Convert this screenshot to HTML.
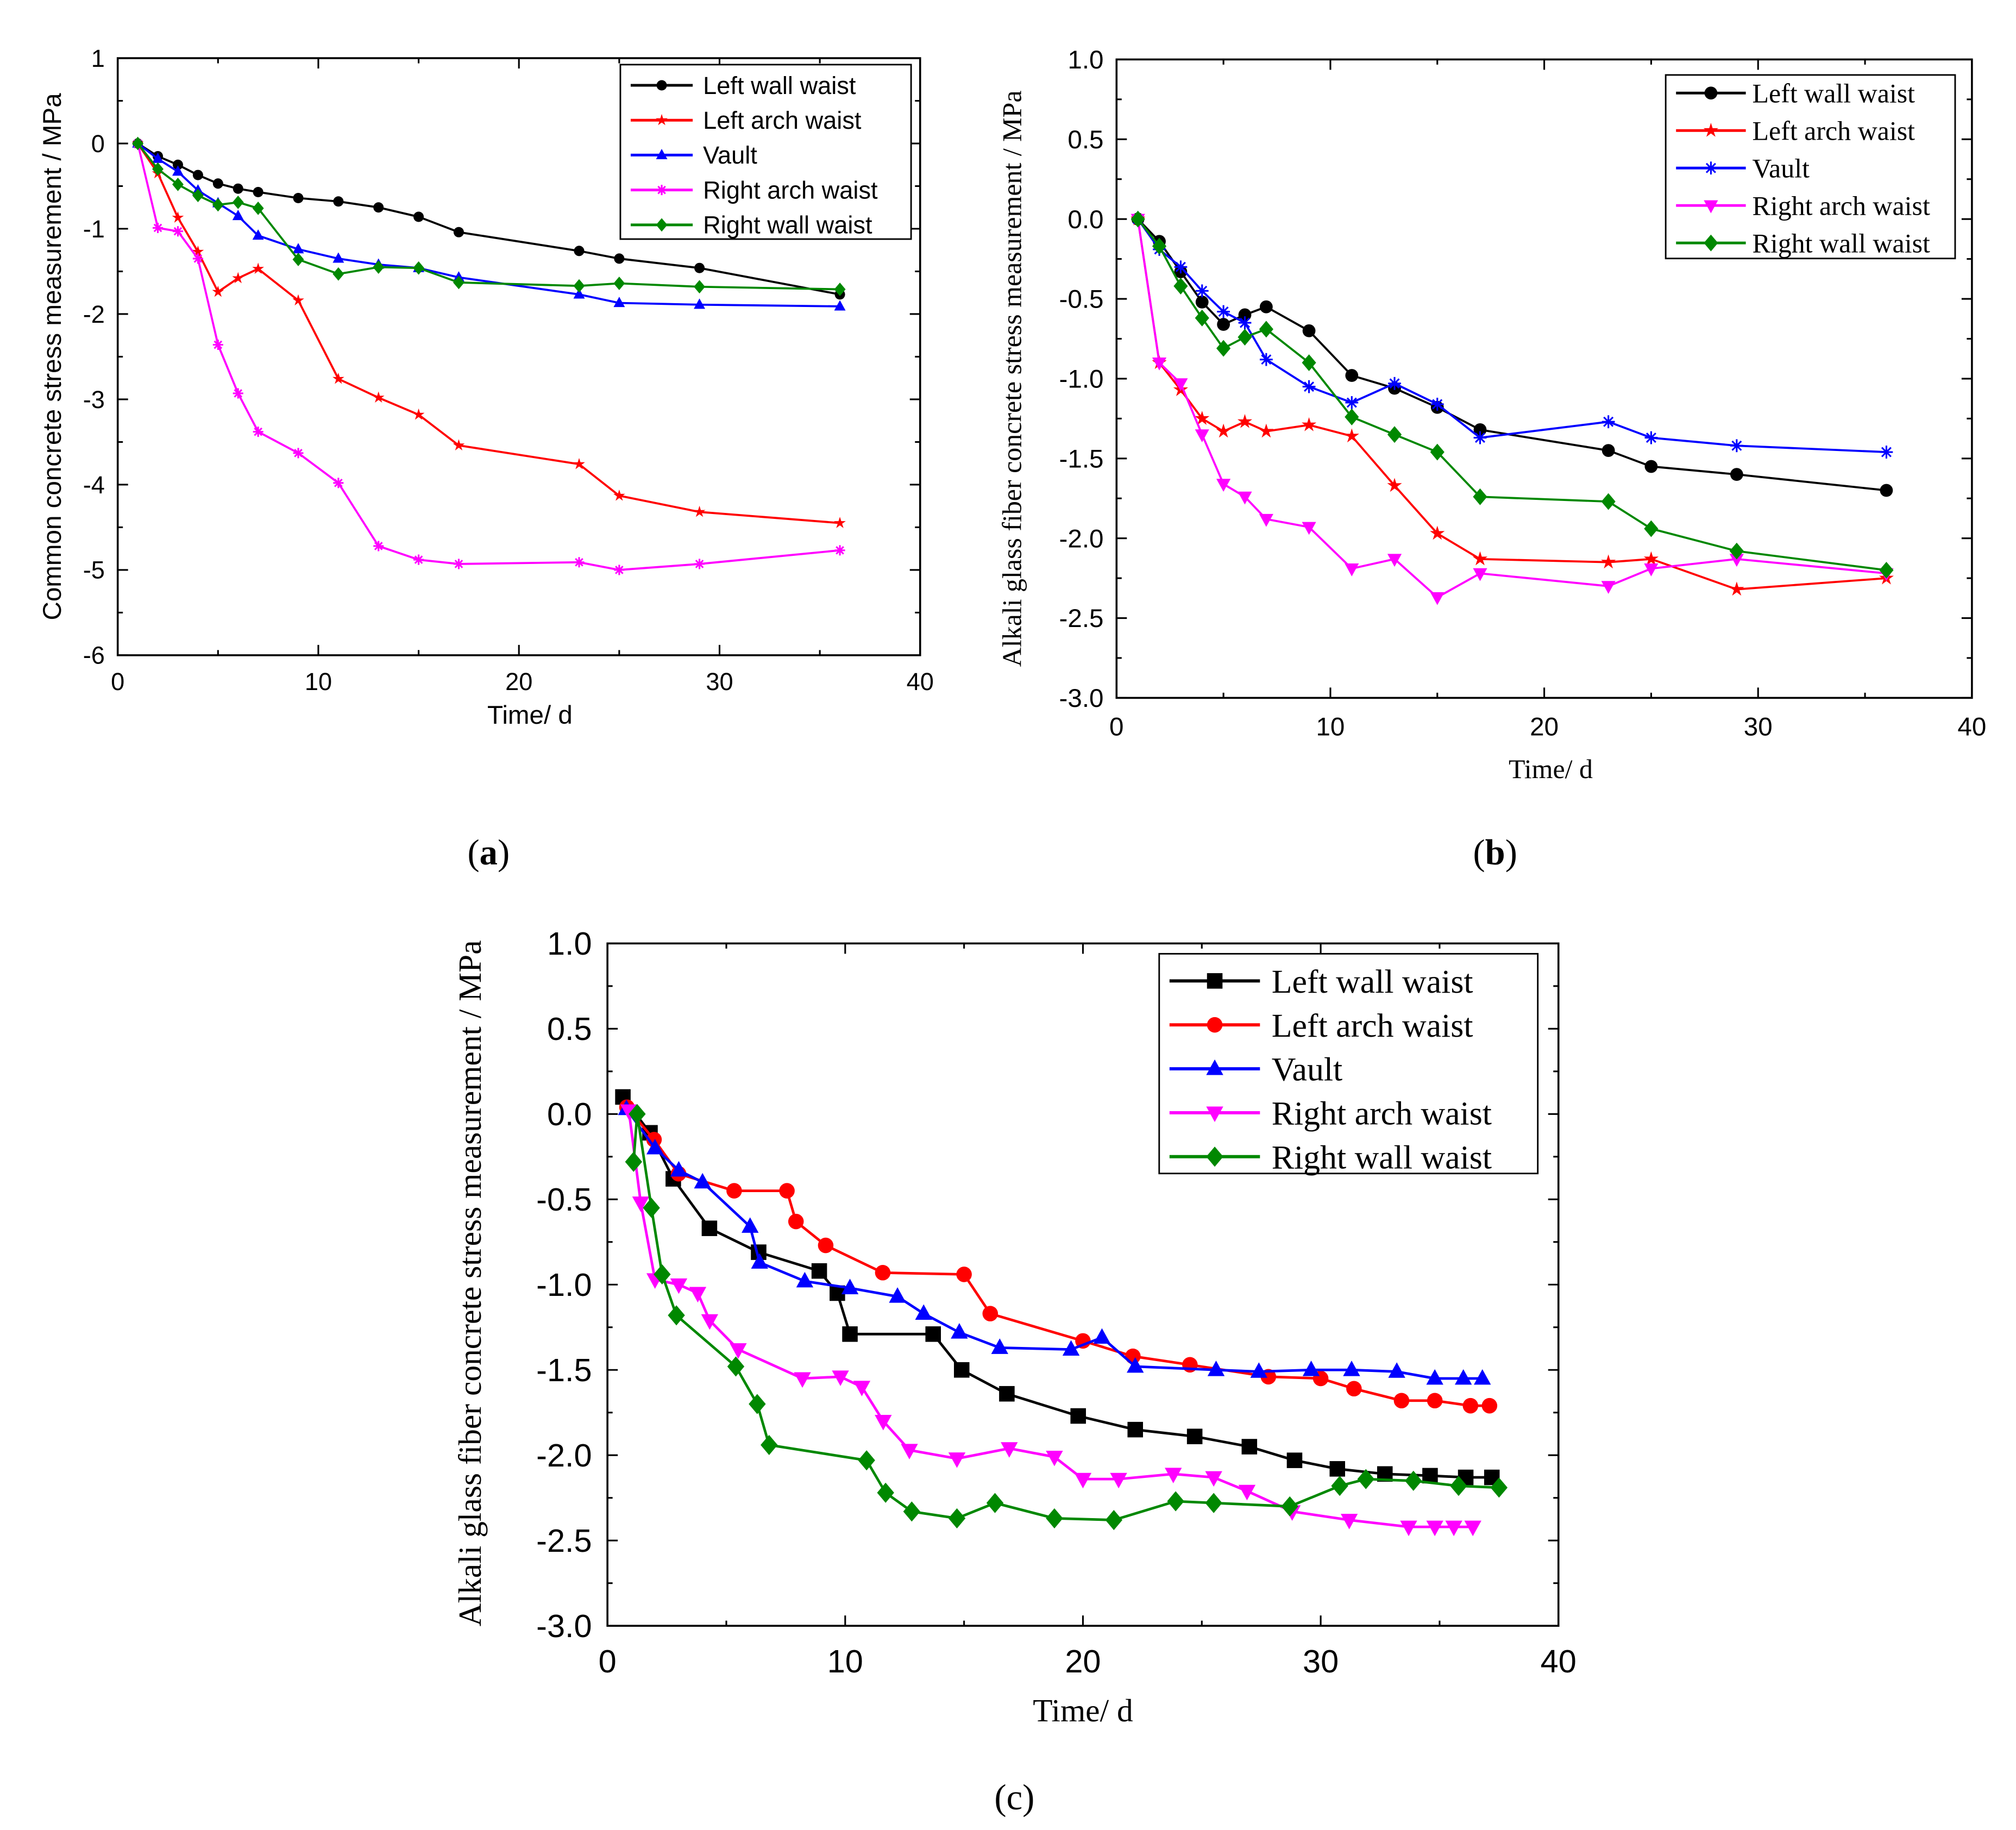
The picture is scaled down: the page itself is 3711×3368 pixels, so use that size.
<!DOCTYPE html>
<html><head><meta charset="utf-8"><style>
html,body{margin:0;padding:0;background:#fff;}
svg{display:block;}
</style></head><body>
<svg id="root" width="3711" height="3368" viewBox="0 0 1560 1416" xmlns="http://www.w3.org/2000/svg">
<rect width="1560" height="1416" fill="#fff"/>
<text x="378" y="669" font-family="Liberation Serif, serif" font-size="28" text-anchor="middle">(<tspan font-weight="bold">a</tspan>)</text>
<text x="1157" y="669" font-family="Liberation Serif, serif" font-size="28" text-anchor="middle">(<tspan font-weight="bold">b</tspan>)</text>
<text x="785" y="1400" font-family="Liberation Serif, serif" font-size="28" text-anchor="middle">(c)</text>
</svg>
<script>
// ---- Panel A data ----
const xA = [1,2,3,4,5,6,7,9,11,13,15,17,23,25,29,36];
const aLeftWall = [0,-0.15,-0.25,-0.37,-0.47,-0.53,-0.57,-0.64,-0.68,-0.75,-0.86,-1.04,-1.26,-1.35,-1.46,-1.77];
const aLeftArch = [0,-0.35,-0.87,-1.27,-1.74,-1.58,-1.47,-1.84,-2.76,-2.98,-3.18,-3.54,-3.76,-4.13,-4.32,-4.45];
const aVault = [0,-0.18,-0.33,-0.55,-0.7,-0.85,-1.08,-1.24,-1.35,-1.42,-1.46,-1.57,-1.77,-1.87,-1.89,-1.91];
const aRightArch = [0,-0.99,-1.03,-1.35,-2.36,-2.93,-3.38,-3.63,-3.98,-4.72,-4.88,-4.93,-4.91,-5.0,-4.93,-4.77];
const aRightWall = [0,-0.3,-0.48,-0.61,-0.72,-0.69,-0.76,-1.36,-1.53,-1.45,-1.46,-1.63,-1.67,-1.64,-1.68,-1.71];
const aYTicks = ["1","0","-1","-2","-3","-4","-5","-6"];
const aXTicks = ["0","10","20","30","40"];
// ---- Panel B data ----
const xB = [1,2,3,4,5,6,7,9,11,13,15,17,23,25,29,36];
const bLeftWall = [0,-0.14,-0.33,-0.52,-0.66,-0.6,-0.55,-0.7,-0.98,-1.06,-1.18,-1.32,-1.45,-1.55,-1.6,-1.7];
const bLeftArch = [0,-0.9,-1.07,-1.25,-1.33,-1.27,-1.33,-1.29,-1.36,-1.67,-1.97,-2.13,-2.15,-2.13,-2.32,-2.25];
const bVault = [0,-0.19,-0.3,-0.45,-0.58,-0.65,-0.88,-1.05,-1.15,-1.03,-1.16,-1.37,-1.27,-1.37,-1.42,-1.46];
const bRightArch = [0,-0.9,-1.03,-1.35,-1.66,-1.74,-1.88,-1.93,-2.19,-2.13,-2.37,-2.22,-2.3,-2.19,-2.13,-2.22];
const bRightWall = [0,-0.17,-0.42,-0.62,-0.81,-0.74,-0.69,-0.9,-1.24,-1.35,-1.46,-1.74,-1.77,-1.94,-2.08,-2.2];
const bYTicks = ["1.0","0.5","0.0","-0.5","-1.0","-1.5","-2.0","-2.5","-3.0"];
const bXTicks = ["0","10","20","30","40"];
// ---- Panel C data ----
const cLeftWallX = [0.65,1.79,2.77,4.29,6.36,8.91,9.67,10.2,13.7,14.9,16.8,19.8,22.2,24.7,27.0,28.9,30.7,32.7,34.6,36.1,37.2];
const cLeftWallY = [0.10,-0.11,-0.38,-0.67,-0.81,-0.92,-1.05,-1.29,-1.29,-1.5,-1.64,-1.77,-1.85,-1.89,-1.95,-2.03,-2.08,-2.11,-2.12,-2.13,-2.13];
const cLeftArchX = [0.82,1.96,2.99,5.33,7.55,7.93,9.18,11.58,15.0,16.1,20.0,22.1,24.5,27.8,30.0,31.4,33.4,34.8,36.3,37.1];
const cLeftArchY = [0.04,-0.15,-0.35,-0.45,-0.45,-0.63,-0.77,-0.93,-0.94,-1.17,-1.33,-1.42,-1.47,-1.54,-1.55,-1.61,-1.68,-1.68,-1.71,-1.71];
const cVaultX = [0.8,2.0,3.0,4.0,6.0,6.4,8.3,10.2,12.2,13.3,14.8,16.5,19.5,20.8,22.2,25.6,27.4,29.6,31.3,33.2,34.8,36.0,36.8];
const cVaultY = [0.03,-0.2,-0.33,-0.4,-0.66,-0.87,-0.98,-1.02,-1.07,-1.17,-1.28,-1.37,-1.38,-1.31,-1.48,-1.5,-1.51,-1.5,-1.5,-1.51,-1.55,-1.55,-1.55];
const cRightArchX = [0.9,1.4,2.0,3.0,3.8,4.3,5.5,8.2,9.8,10.7,11.6,12.7,14.7,16.9,18.8,20.0,21.5,23.8,25.5,26.9,28.8,31.2,33.7,34.8,35.6,36.4];
const cRightArchY = [0.02,-0.52,-0.97,-1.0,-1.05,-1.21,-1.38,-1.55,-1.54,-1.6,-1.8,-1.97,-2.02,-1.96,-2.01,-2.14,-2.14,-2.11,-2.13,-2.21,-2.33,-2.38,-2.42,-2.42,-2.42,-2.42];
const cRightWallX = [1.1,1.25,1.85,2.3,2.9,5.4,6.3,6.8,10.9,11.7,12.8,14.7,16.3,18.8,21.3,23.9,25.5,28.7,30.8,31.9,33.9,35.8,37.5];
const cRightWallY = [-0.28,0.0,-0.55,-0.94,-1.18,-1.48,-1.7,-1.94,-2.03,-2.22,-2.33,-2.37,-2.28,-2.37,-2.38,-2.27,-2.28,-2.3,-2.18,-2.14,-2.15,-2.18,-2.19];
const cYTicks = ["1.0","0.5","0.0","-0.5","-1.0","-1.5","-2.0","-2.5","-3.0"];
const cXTicks = ["0","10","20","30","40"];

const NS = "http://www.w3.org/2000/svg";
const root = document.getElementById('root');
function mk(tag, attrs, parent){
  const e = document.createElementNS(NS, tag);
  for (const k in attrs) e.setAttribute(k, attrs[k]);
  (parent||root).appendChild(e);
  return e;
}
function marker(g, type, cx, cy, color, s){
  let e;
  if (type==='circle'){ e = mk('circle',{cx:cx,cy:cy,r:s,fill:color},g); }
  else if (type==='square'){ e = mk('rect',{x:cx-s,y:cy-s,width:2*s,height:2*s,fill:color},g); }
  else if (type==='tri'){ e = mk('polygon',{points:`${cx},${cy-s*1.2} ${cx-s*1.1},${cy+s*0.8} ${cx+s*1.1},${cy+s*0.8}`,fill:color},g); }
  else if (type==='tridown'){ e = mk('polygon',{points:`${cx},${cy+s*1.2} ${cx-s*1.1},${cy-s*0.8} ${cx+s*1.1},${cy-s*0.8}`,fill:color},g); }
  else if (type==='diamond'){ e = mk('polygon',{points:`${cx},${cy-s*1.3} ${cx+s*1.1},${cy} ${cx},${cy+s*1.3} ${cx-s*1.1},${cy}`,fill:color},g); }
  else if (type==='star'){
    let p=[]; for(let i=0;i<10;i++){const r=i%2?s*0.45:s*1.2;const a=-Math.PI/2+i*Math.PI/5;p.push((cx+r*Math.cos(a)).toFixed(2)+','+(cy+r*Math.sin(a)).toFixed(2));}
    e = mk('polygon',{points:p.join(' '),fill:color},g);
  }
  else if (type==='asterisk'){
    e = mk('g',{stroke:color,'stroke-width':1.3},g);
    for(let i=0;i<4;i++){const a=i*Math.PI/4;mk('line',{x1:cx-s*Math.cos(a),y1:cy-s*Math.sin(a),x2:cx+s*Math.cos(a),y2:cy+s*Math.sin(a)},e);}
  }
  
  
}
function chart(cfg){
  const g = mk('g',{});
  
  
  const X = v => cfg.x0 + (v - cfg.xmin)/(cfg.xmax-cfg.xmin)*(cfg.x1-cfg.x0);
  const Y = v => cfg.y1 - (v - cfg.ymin)/(cfg.ymax-cfg.ymin)*(cfg.y1-cfg.y0);
  // ticks
  const tg = mk('g',{stroke:'#000','stroke-width':1.3},g);
  const nx = cfg.xTicks.length, ny = cfg.yTicks.length;
  for (let i=0;i<nx;i++){
    const v = cfg.xmin + i*(cfg.xmax-cfg.xmin)/(nx-1), px = X(v);
    mk('line',{x1:px,y1:cfg.y1,x2:px,y2:cfg.y1-8},tg);
    mk('line',{x1:px,y1:cfg.y0,x2:px,y2:cfg.y0+8},tg);
    if (i<nx-1){ const pm = X(v+(cfg.xmax-cfg.xmin)/(nx-1)/2);
      mk('line',{x1:pm,y1:cfg.y1,x2:pm,y2:cfg.y1-4},tg); mk('line',{x1:pm,y1:cfg.y0,x2:pm,y2:cfg.y0+4},tg);}
    const t = mk('text',{x:px,y:cfg.y1+cfg.xLabOff,'text-anchor':'middle','font-family':cfg.tickFont,'font-size':cfg.tickSize},g);
    t.textContent = cfg.xTicks[i];
    
    
  }
  for (let i=0;i<ny;i++){
    const v = cfg.ymax - i*(cfg.ymax-cfg.ymin)/(ny-1), py = Y(v);
    mk('line',{x1:cfg.x0,y1:py,x2:cfg.x0+8,y2:py},tg);
    mk('line',{x1:cfg.x1,y1:py,x2:cfg.x1-8,y2:py},tg);
    if (i<ny-1){ const pm = Y(v-(cfg.ymax-cfg.ymin)/(ny-1)/2);
      mk('line',{x1:cfg.x0,y1:pm,x2:cfg.x0+4,y2:pm},tg); mk('line',{x1:cfg.x1,y1:pm,x2:cfg.x1-4,y2:pm},tg);}
    const t = mk('text',{x:cfg.x0-cfg.yLabOff,y:py+cfg.tickSize*0.35,'text-anchor':'end','font-family':cfg.tickFont,'font-size':cfg.tickSize},g);
    t.textContent = cfg.yTicks[i];
    
    
  }
  const fr = mk('rect',{x:cfg.x0,y:cfg.y0,width:cfg.x1-cfg.x0,height:cfg.y1-cfg.y0,fill:'none',stroke:'#000','stroke-width':1.5},g);
  
  
  const xt = mk('text',{x:cfg.xTitlePos[0],y:cfg.xTitlePos[1],'text-anchor':'middle','font-family':cfg.titleFont,'font-size':cfg.titleSize},g);
  xt.textContent = 'Time/ d';
  
  
  const yt = mk('text',{x:0,y:0,'text-anchor':'middle','font-family':cfg.titleFont,'font-size':cfg.titleSize,transform:`translate(${cfg.yTitlePos[0]},${cfg.yTitlePos[1]}) rotate(-90)`},g);
  yt.textContent = cfg.yTitle;
  
  
  // series
  cfg.series.forEach(s=>{
    const sg = mk('g',{},g);
    
    
    const pts = s.x.map((xv,i)=>X(xv).toFixed(2)+','+Y(s.y[i]).toFixed(2)).join(' ');
    mk('polyline',{points:pts,fill:'none',stroke:s.color,'stroke-width':cfg.lw},sg);
    s.x.forEach((xv,i)=>marker(sg,s.m,X(xv),Y(s.y[i]),s.color,cfg.ms));
  });
  // legend
  const L = cfg.legend;
  const lg = mk('g',{},g);
  
  
  mk('rect',{x:L.x,y:L.y,width:L.w,height:L.h,fill:'#fff',stroke:'#000','stroke-width':1.2},lg);
  cfg.series.forEach((s,i)=>{
    const eg = mk('g',{},lg);
    
    
    const cy = L.y + L.pad + i*L.step;
    mk('line',{x1:L.x+L.lx0,y1:cy,x2:L.x+L.lx1,y2:cy,stroke:s.color,'stroke-width':cfg.lw+0.5},eg);
    marker(eg,s.m,L.x+(L.lx0+L.lx1)/2,cy,s.color,cfg.ms);
    const t = mk('text',{x:L.x+L.tx,y:cy+L.fs*0.35,'font-family':cfg.legendFont,'font-size':L.fs},eg);
    t.textContent = s.label;
  });
}
const SANS = 'Liberation Sans, sans-serif', SERIF = 'Liberation Serif, serif';
chart({name:'chart-a',x0:91,x1:712,y0:45,y1:507,xmin:0,xmax:40,ymin:-6,ymax:1,
  xTicks:aXTicks,yTicks:aYTicks,tickFont:SANS,tickSize:19,xLabOff:27,yLabOff:10,
  titleFont:SANS,titleSize:20,xTitlePos:[410,560],yTitlePos:[47,276],
  yTitle:'Common concrete stress measurement / MPa',lw:1.6,ms:4,legendFont:SANS,
  legend:{x:480,y:50,w:225,h:135,pad:16,step:27,lx0:8,lx1:56,tx:64,fs:19},
  series:[
    {key:'left-wall-waist',label:'Left wall waist',color:'#000',m:'circle',x:xA,y:aLeftWall},
    {key:'left-arch-waist',label:'Left arch waist',color:'#f00',m:'star',x:xA,y:aLeftArch},
    {key:'vault',label:'Vault',color:'#00f',m:'tri',x:xA,y:aVault},
    {key:'right-arch-waist',label:'Right arch waist',color:'#f0f',m:'asterisk',x:xA,y:aRightArch},
    {key:'right-wall-waist',label:'Right wall waist',color:'#080',m:'diamond',x:xA,y:aRightWall}]});
chart({name:'chart-b',x0:864,x1:1526,y0:46,y1:540,xmin:0,xmax:40,ymin:-3,ymax:1,
  xTicks:bXTicks,yTicks:bYTicks,tickFont:SANS,tickSize:20,xLabOff:29,yLabOff:10,
  titleFont:SERIF,titleSize:21,xTitlePos:[1200,602],yTitlePos:[790,293],
  yTitle:'Alkali glass fiber concrete stress measurement / MPa',lw:1.6,ms:5,legendFont:SERIF,
  legend:{x:1289,y:58,w:224,h:142,pad:14,step:29,lx0:8,lx1:62,tx:67,fs:21},
  series:[
    {key:'left-wall-waist',label:'Left wall waist',color:'#000',m:'circle',x:xB,y:bLeftWall},
    {key:'left-arch-waist',label:'Left arch waist',color:'#f00',m:'star',x:xB,y:bLeftArch},
    {key:'vault',label:'Vault',color:'#00f',m:'asterisk',x:xB,y:bVault},
    {key:'right-arch-waist',label:'Right arch waist',color:'#f0f',m:'tridown',x:xB,y:bRightArch},
    {key:'right-wall-waist',label:'Right wall waist',color:'#080',m:'diamond',x:xB,y:bRightWall}]});
chart({name:'chart-c',x0:470,x1:1206,y0:730,y1:1258,xmin:0,xmax:40,ymin:-3,ymax:1,
  xTicks:cXTicks,yTicks:cYTicks,tickFont:SANS,tickSize:25,xLabOff:36,yLabOff:12,
  titleFont:SERIF,titleSize:25,xTitlePos:[838,1332],yTitlePos:[372,993],
  yTitle:'Alkali glass fiber concrete stress measurement / MPa',lw:2,ms:6,legendFont:SERIF,
  legend:{x:897,y:738,w:293,h:170,pad:21,step:34,lx0:8,lx1:78,tx:87,fs:26},
  series:[
    {key:'left-wall-waist',label:'Left wall waist',color:'#000',m:'square',x:cLeftWallX,y:cLeftWallY},
    {key:'left-arch-waist',label:'Left arch waist',color:'#f00',m:'circle',x:cLeftArchX,y:cLeftArchY},
    {key:'vault',label:'Vault',color:'#00f',m:'tri',x:cVaultX,y:cVaultY},
    {key:'right-arch-waist',label:'Right arch waist',color:'#f0f',m:'tridown',x:cRightArchX,y:cRightArchY},
    {key:'right-wall-waist',label:'Right wall waist',color:'#080',m:'diamond',x:cRightWallX,y:cRightWallY}]});
</script>
</body></html>
